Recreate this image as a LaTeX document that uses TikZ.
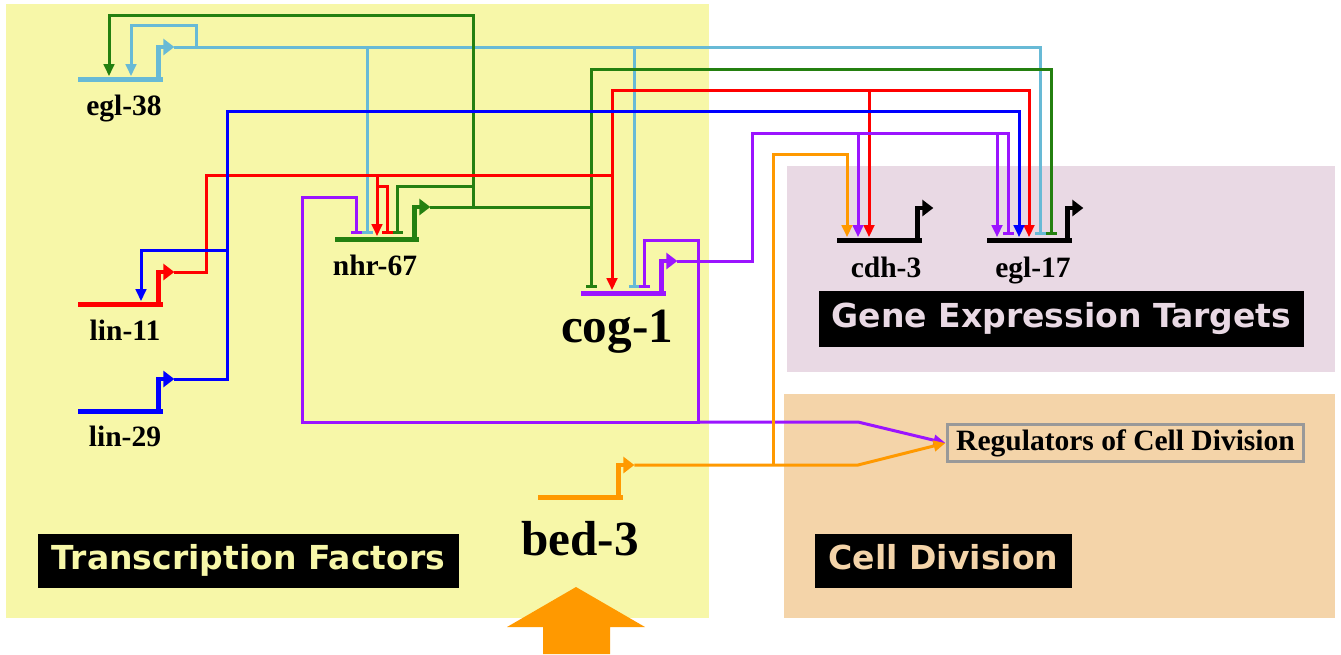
\documentclass[tikz,border=0pt]{standalone}
\usepackage{fontspec}
\setmainfont{Liberation Serif}
\newfontfamily\tagfont{DejaVu Sans}
\usepackage{xcolor}
\usepackage{tikz}
\usetikzlibrary{arrows.meta, positioning}

\definecolor{tfyellow}{RGB}{247,247,168}
\definecolor{gepink}{RGB}{233,217,228}
\definecolor{cdtan}{RGB}{244,212,169}
\definecolor{skyb}{RGB}{104,186,214}
\definecolor{dgreen}{RGB}{36,128,16}
\definecolor{vpurple}{RGB}{155,20,255}
\definecolor{orng}{RGB}{255,153,0}

\begin{document}
\begin{tikzpicture}[
        x=0.02cm, y=-0.02cm,
        bar/.style={
            rectangle,
            inner sep=0pt,
            minimum width=1.7cm,
            minimum height=0.1cm
        },
        prom/.style={line width=0.09cm, -{Triangle[width=0.32cm, length=0.22cm]}},
        conn/.style={line width=0.06cm},
        act/.style={conn, -{Triangle[width=0.21cm, length=0.24cm]}},
        inh/.style={conn, -{Bar[width=0.22cm]}, shorten >=0.04cm},
        gname/.style={
            anchor=base,
            inner sep=0pt,
            font=\fontsize{16.8}{18}\selectfont\bfseries
        },
        bigname/.style={gname, font=\fontsize{28}{30}\selectfont\bfseries},
        tagbox/.style={
            rectangle,
            fill=black,
            inner sep=0pt,
            text height=1em,
            text depth=0em,
            font=\tagfont\fontsize{18.8}{20}\selectfont\bfseries
        }
    ]

    \useasboundingbox (0,0) rectangle (1341,654);

    % regions
    \fill [tfyellow] (6,4) rectangle (709,618);
    \fill [gepink] (787,166) rectangle (1335,372);
    \fill [cdtan] (784,394) rectangle (1335,618);

    % genes
    \node (egl38) [bar, fill=skyb] at (120.5,79) {};
    \node (nhr67) [bar, fill=dgreen, minimum width=1.68cm] at (377,239) {};
    \node (lin11) [bar, fill=red] at (120.5,304) {};
    \node (lin29) [bar, fill=blue] at (120.5,411) {};
    \node (cog1) [bar, fill=vpurple] at (623.5,293) {};
    \node (bed3) [bar, fill=orng] at (580.5,497) {};
    \node (cdh3) [bar, fill=black] at (879.5,240) {};
    \node (egl17) [bar, fill=black] at (1029.5,240) {};

    \node (egl38-name) [gname] at (124,115) {egl-38};
    \node (nhr67-name) [gname] at (375,275) {nhr-67};
    \node (lin11-name) [gname] at (125,340) {lin-11};
    \node (lin29-name) [gname] at (125,446) {lin-29};
    \node (cog1-name) [bigname] at (617,342) {cog-1};
    \node (bed3-name) [bigname] at (580,555) {bed-3};
    \node (cdh3-name) [gname] at (886,277) {cdh-3};
    \node (egl17-name) [gname] at (1033,277) {egl-17};

    % promoters
    \draw [prom, skyb] ([xshift=-0.1cm]egl38.east) |- ++(16,-32) coordinate (egl38p);
    \draw [prom, dgreen] ([xshift=-0.1cm]nhr67.east) |- ++(16,-32) coordinate (nhr67p);
    \draw [prom, red] ([xshift=-0.1cm]lin11.east) |- ++(16,-32) coordinate (lin11p);
    \draw [prom, blue] ([xshift=-0.1cm]lin29.east) |- ++(16,-32) coordinate (lin29p);
    \draw [prom, vpurple] ([xshift=-0.1cm]cog1.east) |- ++(16,-32) coordinate (cog1p);
    \draw [prom, orng] ([xshift=-0.1cm]bed3.east) |- ++(16,-32) coordinate (bed3p);
    \draw [prom, black] ([xshift=-0.1cm]cdh3.east) |- ++(16,-32) coordinate (cdh3p);
    \draw [prom, black] ([xshift=-0.1cm]egl17.east) |- ++(16,-32) coordinate (egl17p);

    % labels
    \node (tf) [tagbox, text=tfyellow, minimum width=8.42cm, minimum height=1.08cm] at (248.5,561) {Transcription Factors};
    \node (get) [tagbox, text=gepink, minimum width=9.7cm, minimum height=1.12cm] at (1061.5,319) {Gene Expression Targets};
    \node (cd) [tagbox, text=cdtan, minimum width=5.14cm, minimum height=1.08cm] at (943.5,561) {Cell Division};
    \node (reg) [draw=gray!80, line width=0.06cm, fill=cdtan, inner sep=0pt, minimum width=7.14cm, minimum height=0.74cm, font=\fontsize{16.8}{18}\selectfont\bfseries] at (1125.5,443) {Regulators of Cell Division};

    \coordinate (gloop) at (473,186);
    \coordinate (rloop) at (377,186);
    \coordinate (bloop) at (227,250);

    % egl-38
    \draw [inh, skyb] (egl38p) -| (1040,0 |- egl17.north);
    \draw [act, skyb] (196,0 |- egl38p) |- (131,25) -- (131,0 |- egl38.north);
    \draw [inh, skyb] (367,0 |- egl38p) -- (367,0 |- nhr67.north);
    \draw [inh, skyb] (634,0 |- egl38p) -- (634,0 |- cog1.north);

    % nhr-67
    \draw [inh, dgreen] (nhr67p) -| (591,0 |- cog1.north);
    \draw [inh, dgreen] (591,0 |- nhr67p) |- (1051,69) -- (1051,0 |- egl17.north);
    \draw [act, dgreen] (473,0 |- nhr67p) |- (109,15) -- (109,0 |- egl38.north);
    \draw [inh, dgreen] (gloop) -| (397,0 |- nhr67.north);

    % lin-11
    \draw [act, red] (lin11p) -| (206,175) coordinate (rbus) -| (612,0 |- cog1.north);
    \draw [act, red] (612,0 |- rbus) |- (1029,90) coordinate (rtop) -- (1029,0 |- egl17.north);
    \draw [act, red] (869,0 |- rtop) -- (869,0 |- cdh3.north);
    \draw [act, red] (377,0 |- rbus) -- (377,0 |- nhr67.north);
    \draw [inh, red] (rloop) -| (387,0 |- nhr67.north);

    % lin-29
    \draw [act, blue] (lin29p) -| (227,111) -| (1019,0 |- egl17.north);
    \draw [act, blue] (bloop) -| (141,0 |- lin11.north);

    % cog-1
    \draw [inh, vpurple] (cog1p) -| (752,133) coordinate (pbus) -| (1008,0 |- egl17.north);
    \draw [act, vpurple] (997,0 |- pbus) -- (997,0 |- egl17.north);
    \draw [act, vpurple] (858,0 |- pbus) -- (858,0 |- cdh3.north);
    \draw [inh, vpurple] (698,0 |- cog1p) |- (644,240) -- (644,0 |- cog1.north);
    \draw [inh, vpurple] (698,0 |- cog1p) -- (698,422) coordinate (pbot) -| (302,197) -| (356,0 |- nhr67.north);
    \draw [act, vpurple] (pbot) -- (858,422) -- (reg.west);

    % bed-3
    \draw [act, orng] (bed3p) -- (858,0 |- bed3p) -- (reg.west);
    \draw [act, orng] (773,0 |- bed3p) |- (847,154) -- (847,0 |- cdh3.north);

    \fill [orng] (543,654) -- (543,627) -- (507,627) -- (576,587) -- (645,627) -- (610,627) -- (610,654) -- cycle;

\end{tikzpicture}
\end{document}
